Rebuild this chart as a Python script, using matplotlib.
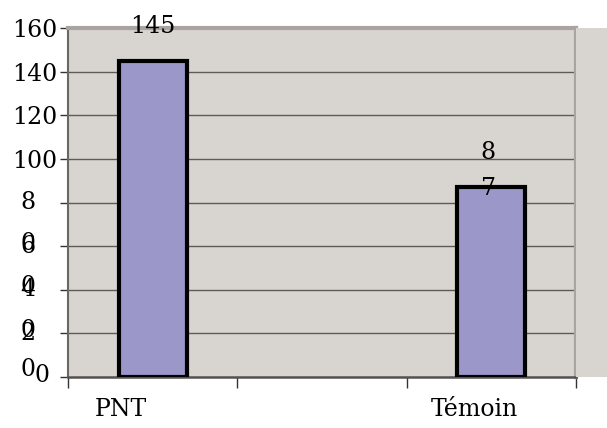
import matplotlib.pyplot as plt
from matplotlib.patches import Rectangle
from matplotlib.transforms import offset_copy

# données
categories = ["PNT", "", "Témoin"]
valeurs = [145, None, 87]
yticks = [0, 20, 40, 60, 80, 100, 120, 140, 160]
ylabels = ["0", "20", "40", "60", "80", "100", "120", "140", "160"]

fond = "#d8d4d0"
barre = "#9c97c9"
plt.rcParams["font.family"] = "DejaVu Serif"
fs = 17

fig = plt.figure(figsize=(6.07, 4.28), dpi=100)
L, R, B, T = 68 / 607, 576 / 607, 51 / 428, 400 / 428
ax = fig.add_axes([L, B, R - L, T - B])
ax.set_facecolor(fond)

# bande grise a droite du graphique
fig.patches.append(Rectangle((R, B), 31 / 607, T - B, transform=fig.transFigure,
                             facecolor=fond, edgecolor="none", zorder=0))

x = range(len(categories))
for i, v in zip(x, valeurs):
    if v is None:
        continue
    ax.bar(i, v, width=0.4, color=barre, edgecolor="black", linewidth=3, zorder=3)

ax.set_xlim(-0.5, len(categories) - 0.5)
ax.set_ylim(0, 160)

# grille
for v in yticks[1:-1]:
    ax.axhline(v, color="#5e5a58", linewidth=1, zorder=1)

# axes
for s in ["top", "right"]:
    ax.spines[s].set_color("#a9a3a1")
    ax.spines[s].set_linewidth(3)
ax.spines["left"].set_color("#6a6664")
ax.spines["left"].set_linewidth(1.5)
ax.spines["bottom"].set_color("#555150")
ax.spines["bottom"].set_linewidth(1.8)

ax.set_xticks([i - 0.5 for i in range(len(categories) + 1)])
ax.set_xticklabels([])
ax.tick_params(axis="x", length=8, width=1, color="#333333", direction="out")

ax.set_yticks(yticks)
ax.set_yticklabels([lab if len(lab) > 2 else "" for lab in ylabels], fontsize=fs)
ax.tick_params(axis="y", length=6, width=1, color="#333333", pad=2)

# petites etiquettes coupees (comme dans l'original)
ytr = ax.get_yaxis_transform()
for v, lab in zip(yticks, ylabels):
    if len(lab) > 2:
        continue
    if lab == "0":
        ax.text(-0.079, v + 3.4, lab, transform=ytr, ha="center", va="center", fontsize=fs)
        continue
    ax.text(-0.079, v, lab[0], transform=ytr, ha="center", va="center", fontsize=fs)
    if v == 20:
        ax.text(-0.051, v - 19.5, lab[1], transform=ytr, ha="center", va="center", fontsize=fs)
    else:
        ax.text(-0.079, v - 18.6, lab[1], transform=ytr, ha="center", va="center", fontsize=fs)

# valeurs des barres
for i, v in zip(x, valeurs):
    if v is None:
        continue
    s = str(v)
    if v >= 100:
        ax.annotate(s, (i, v), xytext=(0, 34), textcoords="offset pixels",
                    ha="center", va="center", fontsize=fs)
    else:
        ax.annotate(s[0], (i, v), xytext=(-3, 35), textcoords="offset pixels",
                    ha="center", va="center", fontsize=fs)
        ax.annotate(s[1], (i, v), xytext=(-3, -1), textcoords="offset pixels",
                    ha="center", va="center", fontsize=fs)

# noms des categories
decal = [-32, 0, -17]
xtr = ax.get_xaxis_transform()
for i, (c, d) in enumerate(zip(categories, decal)):
    if not c:
        continue
    tr = offset_copy(xtr, fig=fig, x=d, y=-33, units="dots")
    ax.text(i, 0, c, transform=tr, ha="center", va="center", fontsize=fs)

fig.savefig("out.png", dpi=100)
